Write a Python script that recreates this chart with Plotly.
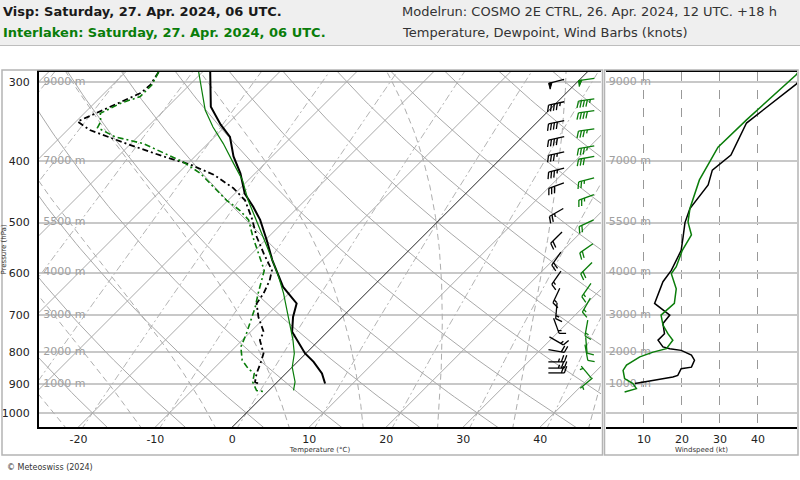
import numpy as np
import plotly.graph_objects as go

# ---------------- sounding data ----------------
visp_t_p = [289, 328, 350, 366, 393, 418, 450, 472, 495, 533, 573, 598, 632, 671, 705, 744, 767, 805, 830, 866, 898]
visp_t = [-49.0, -44.4, -40.8, -38.0, -35.0, -31.9, -28.7, -25.9, -23.3, -19.8, -16.5, -14.4, -11.6, -7.7, -6.4,
          -4.6, -2.9, -0.1, 2.1, 4.7, 6.4]
visp_td_p = [289, 303, 312, 336, 346, 357, 375, 393, 405, 420, 441, 461, 492, 527, 559, 595, 617, 647, 671, 705,
             744, 767, 805, 835, 866, 893, 901]
visp_td = [-55.7, -55.1, -55.3, -58.4, -59.8, -57.1, -50.6, -44.1, -39.5, -35.2, -30.9, -27.8, -24.6, -21.5, -18.5,
           -15.2, -14.2, -13.3, -12.9, -10.9, -8.3, -7.7, -5.5, -4.6, -3.8, -2.9, -1.9]

intl_t_p = [289, 332, 353, 375, 403, 428, 461, 490, 520, 546, 580, 609, 647, 688, 731, 767, 805, 846, 893, 921]
intl_t = [-50.5, -44.7, -41.5, -38.0, -34.1, -30.8, -27.4, -24.3, -21.3, -18.9, -15.9, -13.5, -10.7, -8.1, -5.5,
          -3.4, -1.5, 0.0, 2.3, 3.2]
intl_td_p = [289, 303, 316, 324, 336, 346, 354, 366, 375, 391, 401, 418, 439, 461, 478, 495, 527, 559, 595, 647,
             680, 749, 786, 825, 851, 866, 893, 921, 926]
intl_td = [-55.7, -54.9, -54.9, -56.6, -57.9, -56.8, -56.4, -52.9, -48.4, -43.8, -40.8, -37.1, -33.7, -30.2, -27.2,
           -24.8, -22.0, -19.2, -16.2, -14.0, -12.6, -10.3, -9.3, -7.4, -5.5, -4.1, -3.2, -1.6, -0.2]

# wind speed profiles (kt)
visp_ws_p = [290, 302, 348, 391, 413, 436, 475, 500, 527, 553, 595, 620, 671, 700, 722, 749, 767, 786, 791, 796,
             810, 825, 846, 851, 872, 877, 890, 898]
visp_ws = [52.5, 50.1, 37.0, 32.9, 28.0, 26.9, 22.1, 20.8, 20.3, 19.8, 17.2, 15.0, 12.8, 16.8, 15.0, 15.4, 13.7,
           15.0, 16.8, 19.8, 22.5, 23.3, 22.5, 19.8, 18.9, 17.6, 11.5, 7.6]
intl_ws_p = [289, 292, 344, 380, 401, 428, 475, 499, 523, 553, 587, 602, 636, 671, 688, 700, 726, 749, 767, 791,
             801, 815, 840, 856, 882, 898, 915, 926]
intl_ws = [50.6, 50.1, 37.0, 29.5, 27.3, 24.6, 22.1, 21.6, 22.5, 20.1, 18.5, 17.2, 18.5, 18.0, 15.9, 14.5, 15.0,
           16.3, 17.6, 15.9, 12.4, 8.9, 5.4, 4.5, 4.9, 7.1, 8.0, 4.9]

# wind barbs: pressure (hPa), direction (deg, from), speed (kt)
visp_barb_p = [299, 324, 347, 368, 389, 413, 437, 482, 528, 570, 611, 652, 689, 728, 769, 798, 830, 849, 864]
visp_barb_dir = [255, 258, 258, 258, 258, 255, 250, 240, 225, 215, 215, 205, 185, 160, 120, 100, 90, 90, 90]
visp_barb_kt = [50, 45, 40, 40, 35, 35, 30, 25, 20, 20, 15, 15, 15, 15, 15, 20, 25, 25, 20]
intl_barb_p = [297, 320, 334, 357, 380, 395, 428, 456, 501, 549, 590, 639, 675, 734, 781, 802, 862, 897]
intl_barb_dir = [262, 262, 262, 262, 260, 260, 255, 250, 245, 235, 225, 215, 210, 190, 175, 170, 320, 230]
intl_barb_kt = [50, 45, 40, 35, 35, 30, 25, 25, 20, 20, 20, 15, 15, 15, 10, 10, 5, 5]

# axis labels
p_ticks = [300, 400, 500, 600, 700, 800, 900, 1000]
t_ticks = [-20, -10, 0, 10, 20, 30, 40]
ws_ticks = [10, 20, 30, 40]
height_p = [300, 400, 500, 600, 700, 800, 900]
height_lbl = ["9000 m", "7000 m", "5500 m", "4000 m", "3000 m", "2000 m", "1000 m"]

# ---------------- layout constants ----------------
FIG_W, FIG_H = 800, 480
ML, MR, MT, MB = 39, 3, 72, 53
PW = FIG_W - ML - MR
PH = FIG_H - MT - MB
MAIN_R_PX, RIGHT_L_PX = 601, 606
dom1 = [0, (MAIN_R_PX - ML) / PW]
dom2 = [(RIGHT_L_PX - ML) / PW, 1]
P_BOT, P_TOP = 1052.0, 289.0
X_LEFT, X_RIGHT = -25.12, 47.9
PXX = (MAIN_R_PX - ML) / (X_RIGHT - X_LEFT)   # px per deg
PXL = PH / np.log(P_BOT / P_TOP)              # px per ln(p)
SKEW = PXL / PXX                              # 45 degree isotherms
BARB_X_VISP, BARB_X_INTL = 42.1, 46.0

BLACK = "#000000"
GREEN = "#0a7d0a"
GRID = "#a9a9a9"


def skx(t, p):
    return np.asarray(t, float) + SKEW * np.log(P_BOT / np.asarray(p, float))


def px(xp):
    return (xp - ML) / PW


def py(yp):
    return (FIG_H - MB - yp) / PH


def join(lines):
    xs, ys = [], []
    for x, y in lines:
        xs += list(x) + [None]
        ys += list(y) + [None]
    return xs, ys


# ---------------- background lines ----------------
pp = np.geomspace(P_BOT + 10, P_TOP - 10, 80)

iso = [(skx([t, t], [P_BOT + 10, P_TOP - 10]), [P_BOT + 10, P_TOP - 10]) for t in range(-90, 60, 10) if t != 0]
dry = []
for th in range(-30, 140, 10):
    t = (th + 273.15) * (pp / 1000.0) ** 0.2857 - 273.15
    dry.append((skx(t, pp), pp))

Rd, Cp, Lv, EPS = 287.04, 1005.7, 2.501e6, 0.622


def es(tc):
    return 6.112 * np.exp(17.67 * tc / (tc + 243.5))


def dTdp(T, p):
    e = es(T - 273.15)
    r = EPS * e / (p - e)
    return (Rd * T + Lv * r) / (Cp + Lv * Lv * r * EPS / (Rd * T * T)) / p


def moist(t0):
    out = {}
    for pend in (P_TOP - 10, P_BOT + 10):
        ps = np.linspace(1000.0, pend, 120)
        T = t0 + 273.15
        Ts = [T]
        for i in range(len(ps) - 1):
            h = ps[i + 1] - ps[i]
            k1 = dTdp(T, ps[i]); k2 = dTdp(T + h * k1 / 2, ps[i] + h / 2)
            k3 = dTdp(T + h * k2 / 2, ps[i] + h / 2); k4 = dTdp(T + h * k3, ps[i] + h)
            T = T + h * (k1 + 2 * k2 + 2 * k3 + k4) / 6
            Ts.append(T)
        out[pend] = (ps, np.array(Ts) - 273.15)
    pu, tu = out[P_TOP - 10]
    pd, td = out[P_BOT + 10]
    p_all = np.concatenate([pd[::-1], pu[1:]])
    t_all = np.concatenate([td[::-1], tu[1:]])
    return skx(t_all, p_all), p_all


moi = [moist(t) for t in (-25, -15, -5, 5, 15, 25, 35, 45)]

mix = []
for td0 in range(-60, 50, 10):
    w = EPS * es(td0) / (1000.0 - es(td0))
    e = w * pp / (EPS + w)
    lne = np.log(e / 6.112)
    tdl = 243.5 * lne / (17.67 - lne)
    mix.append((skx(tdl, pp), pp))


# ---------------- wind barbs ----------------
def barb_paths(x_anchor, plist, dlist, slist, L=16.0, F=7.0, gap=3.0):
    lx, ly, tx, ty = [], [], [], []
    for p, dd, s in zip(plist, dlist, slist):
        th = np.deg2rad(dd)
        d = np.array([np.sin(th), np.cos(th)])
        n = np.array([-d[1], d[0]])

        def to_data(v):
            return x_anchor + v[0] / PXX, p * np.exp(-v[1] / PXL)

        def seg(a, b):
            for v in (a, b):
                x, y = to_data(v)
                lx.append(x); ly.append(y)
            lx.append(None); ly.append(None)

        seg(-d * L / 2, d * L / 2)
        r = int(5 * round(s / 5))
        npen, r = divmod(r, 50)
        nfull, r = divmod(r, 10)
        nhalf = r // 5
        pos = L / 2
        fv = (n * 0.94 + d * 0.34) * F
        for _ in range(npen):
            a = d * pos; b = d * (pos - 3.5); c = a + n * F * 0.85
            for v in (a, c, b, a):
                x, y = to_data(v)
                tx.append(x); ty.append(y)
            tx.append(None); ty.append(None)
            pos -= 5
        for _ in range(nfull):
            seg(d * pos, d * pos + fv)
            pos -= gap
        if nhalf:
            if npen == 0 and nfull == 0:
                pos -= gap
            seg(d * pos, d * pos + fv * 0.5)
    return lx, ly, tx, ty


fig = go.Figure()


def add(x, y, color, width=1, dash="solid", xaxis="x", yaxis="y", **kw):
    fig.add_trace(go.Scatter(x=x, y=y, mode="lines", line=dict(color=color, width=width, dash=dash),
                             hoverinfo="skip", showlegend=False, xaxis=xaxis, yaxis=yaxis, **kw))


x, y = join(mix); add(x, y, "#b4b4b4", 1, "7px,3px,2px,3px")
x, y = join(moi); add(x, y, "#adadad", 1, "6px,4px")
x, y = join(iso); add(x, y, GRID, 1)
x, y = join(dry); add(x, y, GRID, 1)
add(skx([0, 0], [P_BOT + 10, P_TOP - 10]), [P_BOT + 10, P_TOP - 10], "#222222", 1)

# height labels
fig.add_trace(go.Scatter(x=[X_LEFT + 0.55] * len(height_p), y=height_p, mode="text", text=height_lbl,
                         textposition="middle right", textfont=dict(size=11, color="#a0a0a0", family="DejaVu Sans"),
                         hoverinfo="skip", showlegend=False, cliponaxis=False))

# profiles
add(skx(visp_t, visp_t_p), visp_t_p, BLACK, 2)
add(skx(visp_td, visp_td_p), visp_td_p, BLACK, 1.8, "6px,3px,2px,3px")
add(skx(intl_t, intl_t_p), intl_t_p, GREEN, 1.2)
add(skx(intl_td, intl_td_p), intl_td_p, GREEN, 1.6, "6px,3px,2px,3px")

# barbs
for xa, bp, bd, bs, col in ((BARB_X_VISP, visp_barb_p, visp_barb_dir, visp_barb_kt, BLACK),
                            (BARB_X_INTL, intl_barb_p, intl_barb_dir, intl_barb_kt, GREEN)):
    lx, ly, tx, ty = barb_paths(xa, bp, bd, bs)
    add(lx, ly, col, 1.3)
    if tx:
        fig.add_trace(go.Scatter(x=tx, y=ty, mode="lines", fill="toself", fillcolor=col,
                                 line=dict(color=col, width=1), hoverinfo="skip", showlegend=False))

# right panel
fig.add_trace(go.Scatter(x=[0.7] * len(height_p), y=height_p, mode="text", text=height_lbl,
                         textposition="middle right", textfont=dict(size=11, color="#a0a0a0", family="DejaVu Sans"),
                         hoverinfo="skip", showlegend=False, cliponaxis=False, xaxis="x2", yaxis="y2"))
add(visp_ws, visp_ws_p, BLACK, 1.5, xaxis="x2", yaxis="y2")
add(intl_ws, intl_ws_p, GREEN, 1.5, xaxis="x2", yaxis="y2")

yr = [np.log10(P_BOT), np.log10(P_TOP)]
ax_font = dict(family="DejaVu Sans", size=11, color="#222222")
fig.update_layout(
    width=FIG_W, height=FIG_H, margin=dict(l=ML, r=MR, t=MT, b=MB, autoexpand=False),
    paper_bgcolor="white", plot_bgcolor="white", font=dict(family="DejaVu Sans"),
    xaxis=dict(domain=dom1, range=[X_LEFT, X_RIGHT], tickvals=t_ticks, ticktext=[str(t) for t in t_ticks],
               showgrid=False, zeroline=False, showline=True, linecolor="black", linewidth=2, mirror=True,
               ticks="", tickfont=ax_font, ticklabelstandoff=1, automargin=False,
               title=dict(text="Temperature (°C)", font=dict(size=7, color="#333"), standoff=0)),
    yaxis=dict(type="log", range=yr, tickvals=p_ticks, ticktext=[str(p) for p in p_ticks], showgrid=True,
               gridcolor="#c8c8c8", gridwidth=2, zeroline=False, showline=True, linecolor="black", linewidth=2,
               ticks="", tickfont=ax_font, ticklabelstandoff=5, automargin=False,
               title=dict(text="Pressure (hPa)", font=dict(size=7, color="#333"), standoff=1)),
    xaxis2=dict(domain=dom2, anchor="y2", range=[0, 50.3], tickvals=ws_ticks, ticktext=[str(t) for t in ws_ticks],
                showgrid=True, gridcolor="#999999", gridwidth=1, griddash="dash", zeroline=False, showline=True,
                linecolor="black", linewidth=2, mirror=True, ticks="", tickfont=ax_font, ticklabelstandoff=1,
                automargin=False,
                title=dict(text="Windspeed (kt)", font=dict(size=7, color="#333"), standoff=0)),
    yaxis2=dict(anchor="x2", type="log", range=yr, tickvals=p_ticks, showticklabels=False, showgrid=True,
                gridcolor="#c8c8c8", gridwidth=2, zeroline=False, showline=False, ticks="", automargin=False),
    shapes=[
        dict(type="rect", xref="paper", yref="paper", x0=px(-5), x1=px(805), y0=py(45), y1=py(-5),
             fillcolor="#efefef", line=dict(width=0), layer="below"),
        dict(type="line", xref="paper", yref="paper", x0=px(0), x1=px(800), y0=py(45.5), y1=py(45.5),
             line=dict(color="#bdbdbd", width=1)),
        dict(type="rect", xref="paper", yref="paper", x0=px(2), x1=px(602.5), y0=py(455), y1=py(70),
             line=dict(color="#b4b4b4", width=1.5)),
        dict(type="rect", xref="paper", yref="paper", x0=px(604.5), x1=px(798), y0=py(455), y1=py(70),
             line=dict(color="#b4b4b4", width=1.5)),
    ],
    annotations=[
        dict(text="<b>Visp: Saturday, 27. Apr. 2024, 06 UTC.</b>", x=px(1), y=py(11), xref="paper", yref="paper",
             xanchor="left", yanchor="middle", showarrow=False, font=dict(size=13, color="#1a1a1a")),
        dict(text="<b>Interlaken: Saturday, 27. Apr. 2024, 06 UTC.</b>", x=px(1), y=py(33), xref="paper",
             yref="paper", xanchor="left", yanchor="middle", showarrow=False, font=dict(size=13, color=GREEN)),
        dict(text="Modelrun: COSMO 2E CTRL, 26. Apr. 2024, 12 UTC. +18 h", x=px(400), y=py(11), xref="paper",
             yref="paper", xanchor="left", yanchor="middle", showarrow=False, font=dict(size=13, color="#333333")),
        dict(text="Temperature, Dewpoint, Wind Barbs (knots)", x=px(400), y=py(33), xref="paper", yref="paper",
             xanchor="left", yanchor="middle", showarrow=False, font=dict(size=13, color="#333333")),
        dict(text="© Meteoswiss (2024)", x=px(5), y=py(467), xref="paper", yref="paper", xanchor="left",
             yanchor="middle", showarrow=False, font=dict(size=8, color="#333333")),
    ],
)

fig.write_html("out.html", config={"displayModeBar": False},
               post_script="document.body.style.margin='0';")
